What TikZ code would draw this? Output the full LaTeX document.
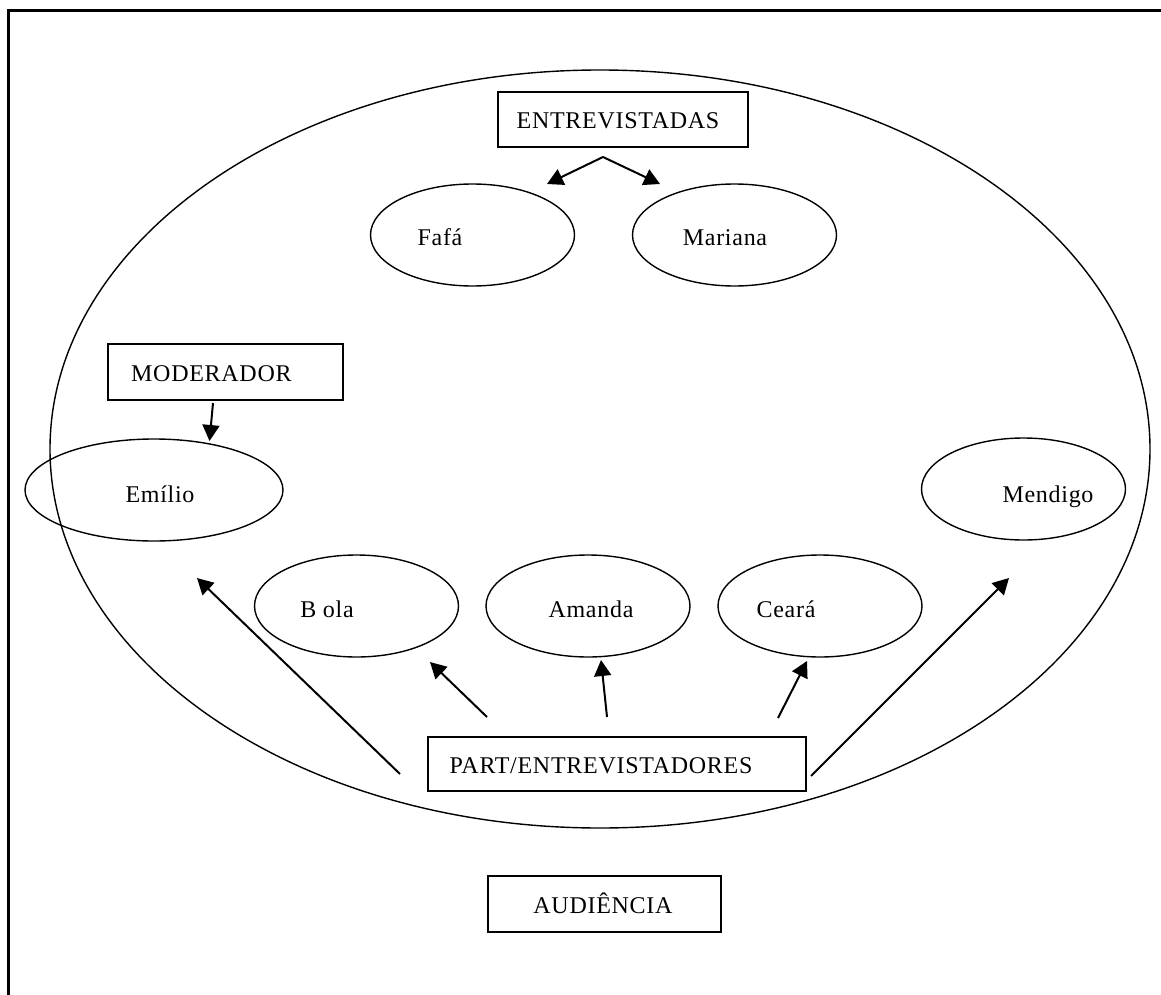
\documentclass[tikz,border=0pt]{standalone}
\usepackage{fontspec}
\setmainfont[LetterSpace=3]{Liberation Serif}
\usetikzlibrary{shapes.geometric,arrows.meta}
\begin{document}
\begin{tikzpicture}[x=1pt,y=-1pt,
  every node/.style={font=\fontsize{24}{28}\selectfont},
  oval/.style={draw,ellipse,line width=1.4pt,inner sep=0pt,
    minimum width=204pt,minimum height=102pt},
  tag/.style={draw,rectangle,line width=1.6pt,inner sep=0pt},
  txt/.style={inner sep=0pt,anchor=base},
  arr/.style={line width=2pt,-{Triangle[length=16pt,width=17pt]}}]
\useasboundingbox (0,0) rectangle (1161,995);
% open frame: top and left edges only
\draw[line width=2.6pt] (8.7,995) -- (8.7,10.5) -- (1161,10.5);
% stage
\node[draw,ellipse,line width=1.4pt,inner sep=0pt,
  minimum width=1100pt,minimum height=758pt] (stage) at (600,449) {};
% boxes (labels placed on their baselines)
\node[tag,minimum width=250pt,minimum height=55pt] (entrev) at (623,119.5) {};
\node[txt] (entrev-t) at (618,129) {ENTREVISTADAS};
\node[tag,minimum width=235pt,minimum height=56pt] (moder) at (225.5,372) {};
\node[txt,anchor=base west] (moder-t) at (131,381) {MODERADOR};
\node[tag,minimum width=378pt,minimum height=54pt] (part) at (617,764) {};
\node[txt] (part-t) at (601,773) {PART/ENTREVISTADORES};
\node[tag,minimum width=233pt,minimum height=56pt] (aud) at (604.5,904) {};
\node[txt] (aud-t) at (603,913) {AUDIÊNCIA};
% people
\node[oval] (fafa) at (472.5,235) {};
\node[txt] (fafa-t) at (440,245) {Fafá};
\node[oval] (mariana) at (734.5,235) {};
\node[txt] (mariana-t) at (725,245) {Mariana};
\node[oval,minimum width=258pt] (emilio) at (154,490) {};
\node[txt] (emilio-t) at (160,502) {Emílio};
\node[oval] (mendigo) at (1023.5,489) {};
\node[txt] (mendigo-t) at (1048,502) {Mendigo};
\node[oval] (bola) at (356.5,606) {};
\node[txt] (bola-t) at (327,617) {B ola};
\node[oval] (amanda) at (588,606) {};
\node[txt] (amanda-t) at (591,617) {Amanda};
\node[oval] (ceara) at (820,606) {};
\node[txt] (ceara-t) at (786,617) {Ceará};
% arrow ends
\coordinate (fork) at (603,157);
\coordinate (fafa-in) at (547,184);
\coordinate (mariana-in) at (660,184);
\coordinate (moder-out) at (213,403);
\coordinate (emilio-in) at (209.5,441);
\coordinate (p1) at (400,774);
\coordinate (p2) at (487,717);
\coordinate (p3) at (607,717);
\coordinate (p4) at (778,718);
\coordinate (p5) at (811,776);
\coordinate (emilio-low) at (197,578);
\coordinate (bola-low) at (430,662);
\coordinate (amanda-low) at (601,660);
\coordinate (ceara-low) at (807,661);
\coordinate (mendigo-low) at (1009,578);
% connectors
\draw[arr] (fork) -- (fafa-in);
\draw[arr] (fork) -- (mariana-in);
\draw[arr] (moder-out) -- (emilio-in);
\draw[arr] (p1) -- (emilio-low);
\draw[arr] (p2) -- (bola-low);
\draw[arr] (p3) -- (amanda-low);
\draw[arr] (p4) -- (ceara-low);
\draw[arr] (p5) -- (mendigo-low);
\end{tikzpicture}
\end{document}
